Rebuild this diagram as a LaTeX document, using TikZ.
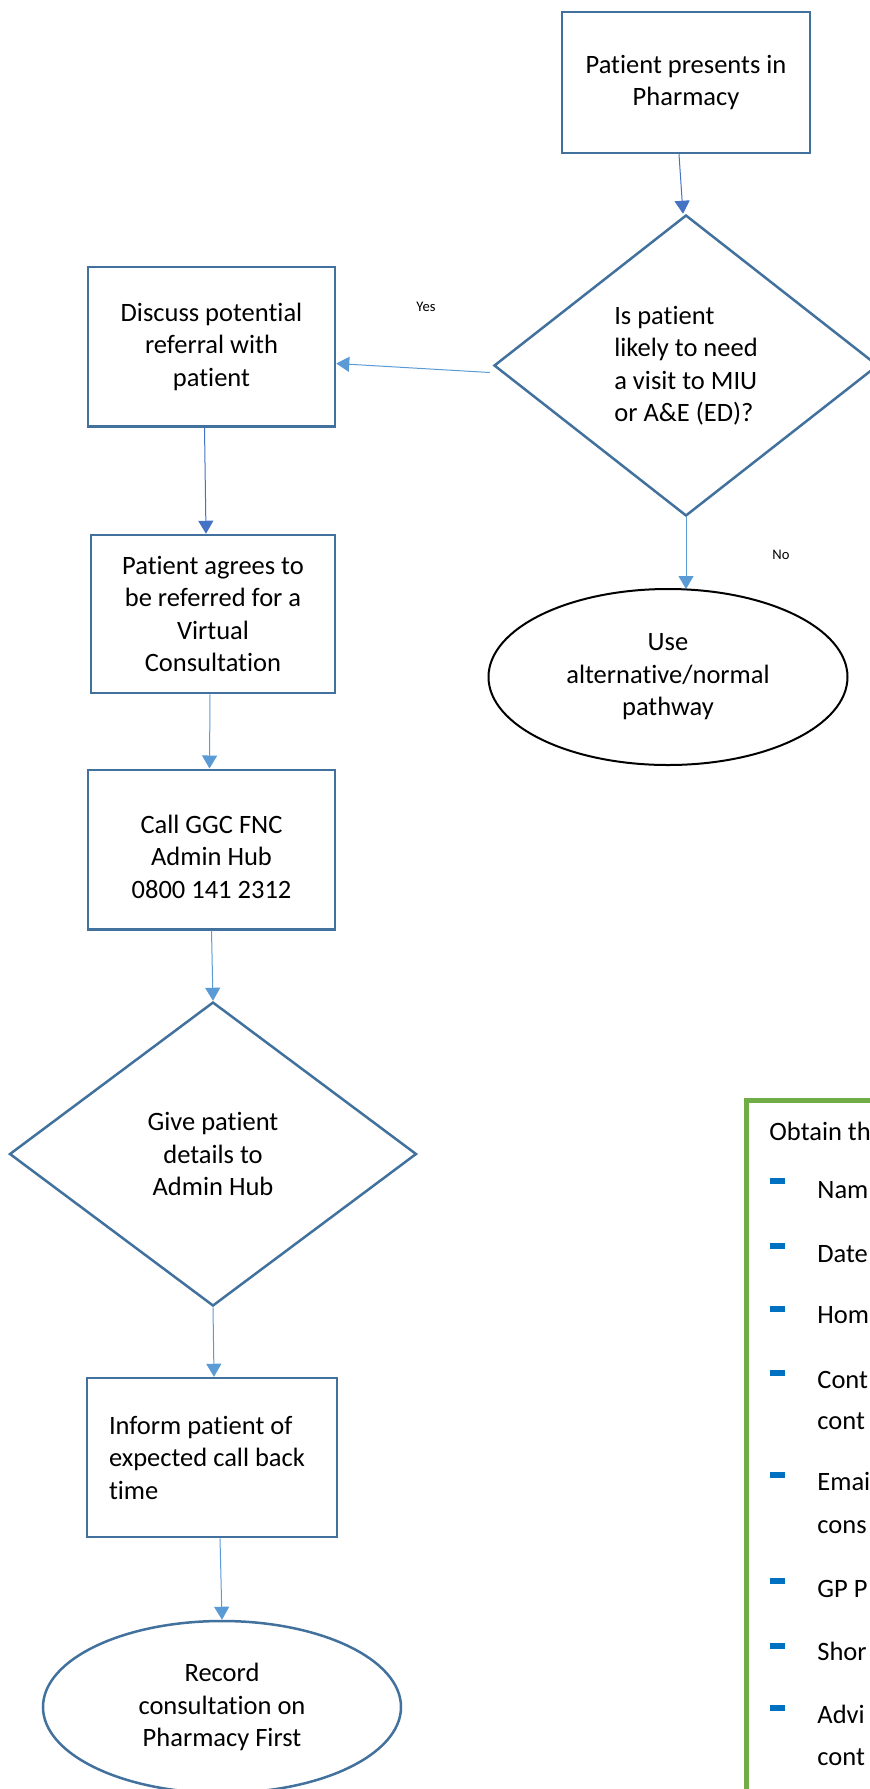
\documentclass[tikz,border=0pt]{standalone}
\usepackage{fontspec}
\setmainfont{Carlito}[Ligatures={NoCommon}]
\usepackage{xcolor}
\usetikzlibrary{arrows.meta,shapes.geometric,calc}

\definecolor{boxblue}{HTML}{41719C}
\definecolor{arrblue}{HTML}{5B9BD5}
\definecolor{arrdark}{HTML}{4472C4}
\definecolor{listgreen}{HTML}{70AD47}
\definecolor{dashblue}{HTML}{0070C0}
\newcommand{\pftxt}{\fontsize{13.25pt}{16.25pt}\selectfont}
\newcommand{\pfsmall}{\fontsize{7.3pt}{9pt}\selectfont}

\tikzset{
  pbox/.style={draw=boxblue,line width=1.25pt,rectangle,align=center,inner sep=0pt,font=\pftxt},
  pdec/.style={draw=boxblue,line width=1.25pt,diamond,aspect=1.28,align=center,inner sep=0pt,font=\pftxt},
  pell/.style={draw=boxblue,line width=1.25pt,ellipse,align=center,inner sep=0pt,font=\pftxt},
  parr/.style={draw=arrblue,line width=0.5pt,-{Triangle[length=6.5pt,width=7.5pt]}},
  listtxt/.style={anchor=base west,inner sep=0pt,font=\pftxt}
}

\begin{document}
\begin{tikzpicture}[line join=miter,x=0.5pt,y=-0.5pt]
  \useasboundingbox (0,0) rectangle (870,1789);
  \clip (0,0) rectangle (870,1789);

  \node[pbox,minimum width=124pt,minimum height=70.5pt] (present) at (686,82.5) {Patient presents in\\Pharmacy};
  \node[pdec,align=left,minimum width=192pt,minimum height=150.5pt] (likely) at (686,365.5) {Is patient\\likely to need\\a visit to MIU\\or A\&E (ED)?};
  \node[pbox,minimum width=123.5pt,minimum height=79.75pt] (discuss) at (211.5,346.5) {Discuss potential\\referral with\\patient};
  \node[pbox,minimum width=122pt,minimum height=79pt] (agrees) at (213,614) {Patient agrees to\\be referred for a\\Virtual\\Consultation};
  \node[pbox,minimum width=123.5pt,minimum height=79.75pt] (callhub) at (211.5,849.5) {\mbox{}\\Call GGC FNC\\Admin Hub\\0800 141 2312};
  \node[pdec,minimum width=203.5pt,minimum height=152pt] (details) at (213,1154) {Give patient\\details to\\Admin Hub};
  \node[pbox,align=flush left,text width=103pt,minimum width=125pt,minimum height=79.5pt] (inform) at (212,1457.5) {Inform patient of\\expected call back\\time};
  \node[pell,minimum width=179pt,minimum height=86pt] (record) at (222,1707) {Record\\consultation on\\Pharmacy First};
  \node[pell,draw=black,line width=1pt,minimum width=179.5pt,minimum height=88pt] (altpath) at (668,677) {Use\\alternative/normal\\pathway};

  \draw[parr,draw=arrdark] ($(present.south)+(-7,0)$) -- ($(likely.north)+(-3,0)$);
  \draw[parr] ($(likely.west)+(-3,7)$) -- ($(discuss.east)+(0,17)$);
  \draw[parr] (likely.south) -- ($(altpath.north)+(18,1)$);
  \draw[parr,draw=arrdark] ($(discuss.south)+(-7,0)$) -- ($(agrees.north)+(-7,0)$);
  \draw[parr] ($(agrees.south)+(-3,0)$) -- ($(callhub.north)+(-2,0)$);
  \draw[parr] (callhub.south) -- (details.north);
  \draw[parr] (details.south) -- ($(inform.north)+(2,0)$);
  \draw[parr] ($(inform.south)+(8,0)$) -- (record.north);

  \node[font=\pfsmall,inner sep=0pt] (yes) at (426,307) {Yes};
  \node[font=\pfsmall,inner sep=0pt] (no) at (781,555) {No};

  \draw[listgreen,line width=2.5pt] (746.5,1100) rectangle (1000,1900);
  \node[listtxt] (obtain) at (769,1140) {Obtain th};
  \fill[dashblue] (770,1178) rectangle (785,1184);
  \node[listtxt] (itname) at (817,1198) {Nam};
  \fill[dashblue] (770,1243) rectangle (785,1249);
  \node[listtxt] (itdate) at (817,1262) {Date};
  \fill[dashblue] (770,1306) rectangle (785,1312);
  \node[listtxt] (ithome) at (817,1323) {Hom};
  \fill[dashblue] (770,1370) rectangle (785,1376);
  \node[listtxt] (itcont) at (817,1388) {Cont};
  \node[listtxt] (itconta) at (817,1429) {cont};
  \fill[dashblue] (770,1472) rectangle (785,1478);
  \node[listtxt] (itmail) at (817,1490) {Emai};
  \node[listtxt] (itmaila) at (817,1533) {cons};
  \fill[dashblue] (770,1578) rectangle (785,1584);
  \node[listtxt] (itgp) at (817,1597) {GP P};
  \fill[dashblue] (770,1643) rectangle (785,1649);
  \node[listtxt] (itshort) at (817,1660) {Shor};
  \fill[dashblue] (770,1705) rectangle (785,1711);
  \node[listtxt] (itadv) at (817,1723) {Advi};
  \node[listtxt] (itadva) at (817,1765) {cont};
\end{tikzpicture}
\end{document}
